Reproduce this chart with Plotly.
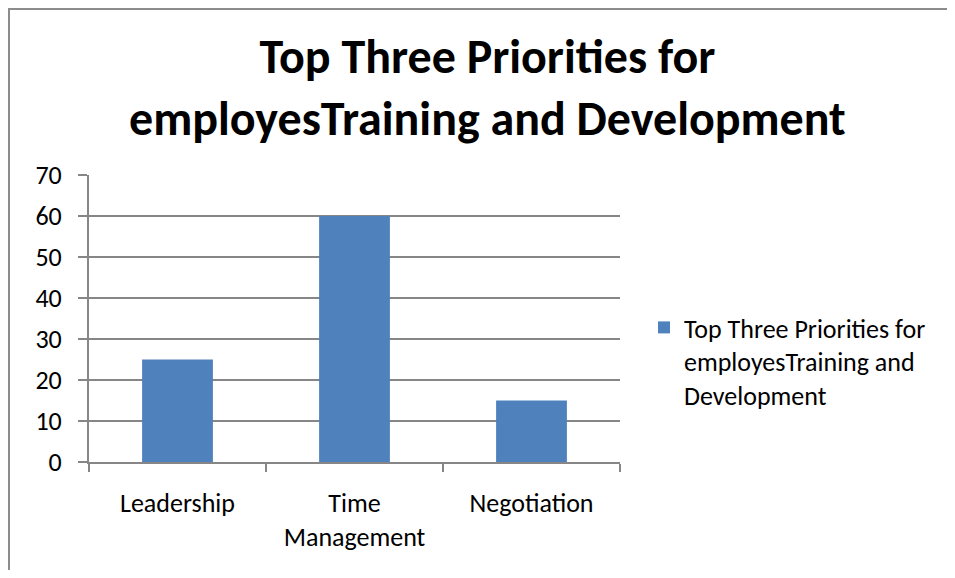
import plotly.graph_objects as go

categories = ["Leadership", "Time<br>Management", "Negotiation"]
values = [25, 60, 15]
series_name = "Top Three Priorities for<br>employesTraining and<br>Development"
title_text = "Top Three Priorities for<br>employesTraining and Development"
y_ticks = [0, 10, 20, 30, 40, 50, 60, 70]

# page is offset by the 8px body margin; work in figure coordinates
OFF = 8
W, H = 955 - 2 * OFF, 578 - 2 * OFF
L, R, T, B = 89 - OFF, 620 - OFF, 175 - OFF, 462 - OFF  # plot area in px


def px_x(x):
    return (x - OFF - L) / (R - L)


def px_y(y):
    return (B - (y - OFF)) / (B - T)


FONT = "Carlito, Calibri, Lato, sans-serif"
GRID = "#868686"
FS = 26

fig = go.Figure()
fig.add_trace(go.Bar(
    x=categories, y=values, name=series_name,
    marker=dict(color="#4F81BD", line=dict(width=0)),
    showlegend=True,
))

fig.update_layout(
    width=W, height=H,
    margin=dict(l=L, r=W - R, t=T, b=H - B, pad=0),
    paper_bgcolor="white", plot_bgcolor="white",
    bargap=0.6,
    font=dict(family=FONT, color="black", size=FS),
    showlegend=True,
    legend=dict(
        x=px_x(644), y=px_y(304), xanchor="left", yanchor="top",
        font=dict(family=FONT, size=FS, color="black"),
        valign="top", bgcolor="rgba(0,0,0,0)",
    ),
    xaxis=dict(
        range=[-0.5, 2.5], showgrid=False, showline=True, linecolor=GRID,
        linewidth=2, ticks="outside", tickson="boundaries", ticklen=8,
        tickcolor=GRID, tickwidth=2, ticklabelstandoff=17,
        tickfont=dict(family=FONT, size=FS, color="black"), fixedrange=True,
    ),
    yaxis=dict(
        range=[0, 70], tickvals=y_ticks, showgrid=True, gridcolor=GRID,
        gridwidth=2, showline=True, linecolor=GRID, linewidth=2,
        ticks="outside", ticklen=9, tickcolor=GRID, tickwidth=2,
        ticklabelstandoff=11, zeroline=False,
        tickfont=dict(family=FONT, size=FS, color="black"), fixedrange=True,
    ),
    annotations=[dict(
        text="<b>" + title_text + "</b>", xref="paper", yref="paper",
        x=px_x(487.5), y=px_y(87), xanchor="center", yanchor="middle",
        showarrow=False, font=dict(family=FONT, size=48, color="black"),
    )],
    shapes=[
        dict(type="line", xref="paper", yref="paper",
             x0=px_x(8), x1=px_x(970), y0=px_y(9), y1=px_y(9),
             line=dict(color="#8c8c8c", width=2)),
        dict(type="line", xref="paper", yref="paper",
             x0=px_x(9), x1=px_x(9), y0=px_y(8), y1=px_y(590),
             line=dict(color="#8c8c8c", width=2)),
    ],
)

fig.write_html("out.html")
